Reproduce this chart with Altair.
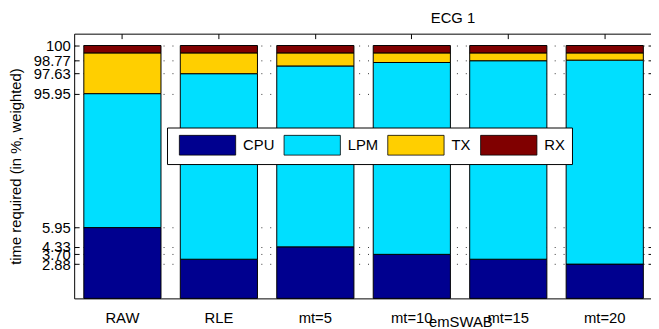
import altair as alt
import pandas as pd

categories = ["RAW", "RLE", "mt=5", "mt=10", "mt=15", "mt=20"]
series_names = ["CPU", "LPM", "TX", "RX"]
cpu_values = [5.95, 3.29, 4.33, 3.70, 3.29, 2.88]
lpm_values = [90.00, 94.34, 93.95, 94.87, 95.43, 95.89]
tx_values = [3.43, 1.75, 1.10, 0.81, 0.66, 0.61]
rx_values = [0.62, 0.62, 0.62, 0.62, 0.62, 0.62]
y_tick_values = [2.88, 3.70, 4.33, 5.95, 95.95, 97.63, 98.77, 100]
series_colors = ["#00008F", "#00DFFF", "#FFCF00", "#800000"]

rows = []
for i, c in enumerate(categories):
    for k, (name, vals) in enumerate(zip(series_names, [cpu_values, lpm_values, tx_values, rx_values])):
        rows.append({"cat": c, "series": name, "value": vals[i], "ord": k})
df = pd.DataFrame(rows)

W, H = 586, 268
FONT = "Liberation Sans"

y_scale = alt.Scale(domain=[0, 5.95, 95.95, 100, 101],
                    range=[H, 196.3, 60.7, 12, 0], nice=False, zero=False)
x_scale = alt.Scale(domain=categories, paddingInner=0.2, paddingOuter=0.1)

bars = alt.Chart(df).mark_bar(stroke="black", strokeWidth=1).encode(
    x=alt.X("cat:N", sort=categories, scale=x_scale,
            axis=alt.Axis(orient="bottom", title="emSWAB", labelAngle=0, ticks=False, tickSize=0,
                          domain=False, grid=False, labelPadding=12, labelFont=FONT, labelFontSize=15,
                          labelColor="black", titleFont=FONT, titleFontSize=15, titleFontWeight="normal",
                          titleColor="black", titleX=391, titleY=28, titleBaseline="alphabetic",
                          titleAlign="center")),
    y=alt.Y("value:Q", stack="zero", scale=y_scale,
            axis=alt.Axis(orient="left", values=y_tick_values,
                          labelExpr="datum.value == 100 ? '100' : format(datum.value, '.2f')",
                          tickSize=5, offset=-5, tickColor="black", labelPadding=4, domain=False,
                          grid=True, gridDash=[1, 8], gridColor="#333333", gridWidth=1,
                          labelOverlap=False, labelFont=FONT, labelFontSize=15, labelColor="black",
                          title="time required (in %, weighted)", titleFont=FONT, titleFontSize=15,
                          titleFontWeight="normal", titleColor="black", titlePadding=10)),
    color=alt.Color("series:N", scale=alt.Scale(domain=series_names, range=series_colors),
                    legend=alt.Legend(orient="none", legendX=94, legendY=95, direction="horizontal",
                                      columns=4, title=None,
                                      symbolType="M-0.5,-1H5.2V1H-0.5Z", symbolSize=400,
                                      symbolStrokeColor="black", symbolStrokeWidth=0.8,
                                      symbolOpacity=1, labelFont=FONT, labelFontSize=15,
                                      labelColor="black", labelOffset=49, columnPadding=4,
                                      padding=7, strokeColor="black", fillColor="white")),
    order=alt.Order("ord:Q", sort="ascending"),
)

ghost = alt.Chart(df).mark_bar(opacity=0).encode(
    x=alt.X("cat:N", sort=categories, scale=x_scale,
            axis=alt.Axis(orient="top", labels=False, ticks=True, tickSize=5, offset=-5,
                          domain=False, grid=False, tickColor="black",
                          title="ECG 1", titleFont=FONT, titleFontSize=15, titleFontWeight="normal",
                          titleColor="black", titleX=383, titleY=-16, titleBaseline="alphabetic",
                          titleAlign="center")),
    y=alt.Y("value:Q", stack="zero", scale=y_scale,
            axis=alt.Axis(orient="right", values=y_tick_values, labels=False, tickSize=5, offset=-5,
                          domain=False, grid=False, title=None, tickColor="black")),
    detail="series:N",
    order=alt.Order("ord:Q", sort="ascending"),
)

chart = alt.layer(bars, ghost).resolve_axis(x="independent", y="independent").properties(
    width=W, height=H,
    padding={"left": 67, "top": 24, "right": -2, "bottom": 29},
    autosize=alt.AutoSizeParams(type="none"),
).configure_view(stroke="black", strokeWidth=1)

chart.save("out.html", embed_options={"renderer": "svg", "actions": False})
